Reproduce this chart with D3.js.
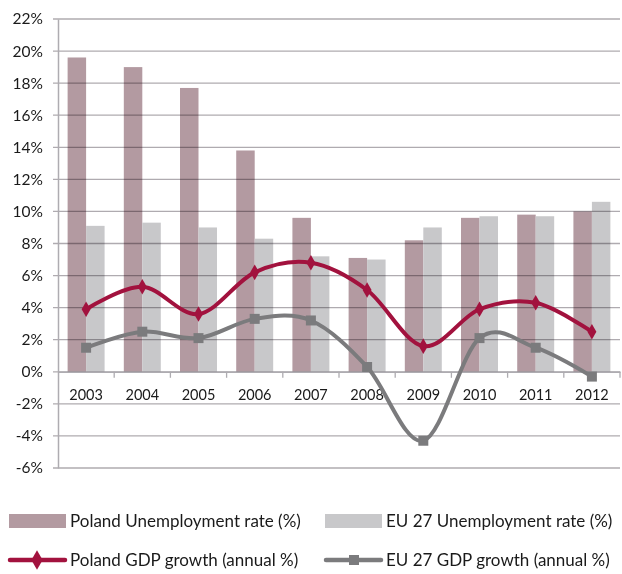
<!DOCTYPE html>
<html>
<head>
<meta charset="utf-8">
<script src="https://cdn.jsdelivr.net/npm/d3@7"></script>
<style>
  html, body { margin: 0; padding: 0; background: #fff; }
  svg { display: block; font-family: Lato, "Open Sans", sans-serif; }
</style>
</head>
<body>
<svg id="chart" width="622" height="574"></svg>
<script>
// Years on the category axis
const years = ["2003","2004","2005","2006","2007","2008","2009","2010","2011","2012"];
// Unemployment rate (%)
const polandUnemployment = [19.6, 19.0, 17.7, 13.8, 9.6, 7.1, 8.2, 9.6, 9.8, 10.0];
const euUnemployment     = [9.1, 9.3, 9.0, 8.3, 7.2, 7.0, 9.0, 9.7, 9.7, 10.6];
// GDP growth (annual %)
const polandGdp = [3.9, 5.3, 3.6, 6.2, 6.8, 5.1, 1.6, 3.9, 4.3, 2.5];
const euGdp     = [1.5, 2.5, 2.1, 3.3, 3.2, 0.3, -4.3, 2.1, 1.5, -0.3];
// Value axis ticks
const yTicks = [-6, -4, -2, 0, 2, 4, 6, 8, 10, 12, 14, 16, 18, 20, 22];

const colors = {
  plBar: "#b39aa1",
  euBar: "#c8c8ca",
  plLine: "#a2123e",
  euLine: "#7b7b7d",
  grid: "#aeacb1"
};

const svg = d3.select("#chart");
const plotLeft = 58, plotRight = 620, plotTop = 19, plotBottom = 468;

const x = d3.scaleBand().domain(years).range([plotLeft, plotRight]).paddingInner(0).paddingOuter(0);
const y = d3.scaleLinear().domain([-6, 22]).range([plotBottom, plotTop]);

const inner = d3.scaleBand().domain(["pl", "eu"]).range([0, x.bandwidth()]).paddingOuter(0.52).paddingInner(0);

// Bars
const g = svg.append("g");
g.selectAll(".pl").data(years).join("rect")
  .attr("x", d => x(d) + inner("pl"))
  .attr("width", inner.bandwidth())
  .attr("y", (d, i) => y(polandUnemployment[i]))
  .attr("height", (d, i) => y(0) - y(polandUnemployment[i]))
  .attr("fill", colors.plBar);
g.selectAll(".eu").data(years).join("rect")
  .attr("x", d => x(d) + inner("eu"))
  .attr("width", inner.bandwidth())
  .attr("y", (d, i) => y(euUnemployment[i]))
  .attr("height", (d, i) => y(0) - y(euUnemployment[i]))
  .attr("fill", colors.euBar);

// Horizontal gridlines over the bars (with short outward ticks)
svg.append("g").selectAll("line").data(yTicks).join("line")
  .attr("x1", plotLeft - 5).attr("x2", plotRight)
  .attr("y1", d => y(d)).attr("y2", d => y(d))
  .attr("stroke", "#6e6670").attr("stroke-opacity", 0.55)
  .attr("stroke-width", 1.3)
  .style("mix-blend-mode", "multiply");

// Vertical value axis
const yAxis = svg.append("g").attr("transform", `translate(${plotLeft},0)`)
  .call(d3.axisLeft(y).tickValues(yTicks).tickSize(0).tickPadding(15).tickFormat(d => d + "%"));
yAxis.select(".domain").attr("stroke", colors.grid).attr("stroke-width", 1.5);
yAxis.selectAll("text").attr("font-size", 15.5).attr("fill", "#1a1a1a")
  .attr("font-family", "Lato, sans-serif");

// Category axis on the zero line
const xAxis = svg.append("g").attr("transform", `translate(0,${y(0)})`)
  .call(d3.axisBottom(x).tickSize(0).tickPadding(18));
xAxis.select(".domain").attr("stroke", colors.grid).attr("stroke-width", 1.5);
xAxis.selectAll("text").attr("font-size", 14.5).attr("fill", "#1a1a1a")
  .attr("font-family", "Lato, sans-serif");
// Tick marks between categories
const boundaries = years.slice(1).map(d => x(d)).concat([plotRight]);
svg.append("g").selectAll("line").data(boundaries).join("line")
  .attr("x1", d => d).attr("x2", d => d)
  .attr("y1", y(0)).attr("y2", y(0) + 6)
  .attr("stroke", colors.grid).attr("stroke-width", 1.3);

// Smoothed GDP lines
const cx = d => x(d) + x.bandwidth() / 2;
function drawLine(values, color) {
  const line = d3.line().x((v, i) => cx(years[i])).y(v => y(v)).curve(d3.curveCardinal.tension(0));
  svg.append("path").datum(values).attr("d", line)
    .attr("fill", "none").attr("stroke", color).attr("stroke-width", 4)
    .attr("stroke-linecap", "round");
}
drawLine(euGdp, colors.euLine);
drawLine(polandGdp, colors.plLine);

const diamond = d3.symbol().type(d3.symbolDiamond).size(70);
const square = d3.symbol().type(d3.symbolSquare).size(100);
svg.append("g").selectAll("path").data(euGdp).join("path")
  .attr("d", square)
  .attr("transform", (v, i) => `translate(${cx(years[i])},${y(v)})`)
  .attr("fill", colors.euLine);
svg.append("g").selectAll("path").data(polandGdp).join("path")
  .attr("d", diamond)
  .attr("transform", (v, i) => `translate(${cx(years[i])},${y(v)})`)
  .attr("fill", colors.plLine);

// Legend
const legendItems = [
  { label: "Poland Unemployment rate (%)", kind: "bar", color: colors.plBar, x: 9, y: 521 },
  { label: "EU 27 Unemployment rate (%)", kind: "bar", color: colors.euBar, x: 325, y: 521 },
  { label: "Poland GDP growth (annual %)", kind: "diamond", color: colors.plLine, x: 9, y: 560 },
  { label: "EU 27 GDP growth (annual %)", kind: "square", color: colors.euLine, x: 325, y: 560 }
];
const lg = svg.append("g").selectAll("g").data(legendItems).join("g")
  .attr("transform", d => `translate(${d.x},${d.y})`);
lg.filter(d => d.kind === "bar").append("rect")
  .attr("x", 0).attr("y", -7).attr("width", 57).attr("height", 14).attr("fill", d => d.color);
lg.filter(d => d.kind !== "bar").append("line")
  .attr("x1", 1).attr("x2", 56).attr("y1", 0).attr("y2", 0)
  .attr("stroke", d => d.color).attr("stroke-width", 4.5).attr("stroke-linecap", "round");
lg.filter(d => d.kind === "diamond").append("path")
  .attr("d", d3.symbol().type(d3.symbolDiamond).size(110)).attr("transform", "translate(28,0)").attr("fill", d => d.color);
lg.filter(d => d.kind === "square").append("path")
  .attr("d", square).attr("transform", "translate(29,0)").attr("fill", d => d.color);
lg.append("text")
  .attr("x", 61).attr("y", 0).attr("dy", "0.36em")
  .attr("font-size", 17).attr("fill", "#1a1a1a")
  .text(d => d.label);
</script>
</body>
</html>
